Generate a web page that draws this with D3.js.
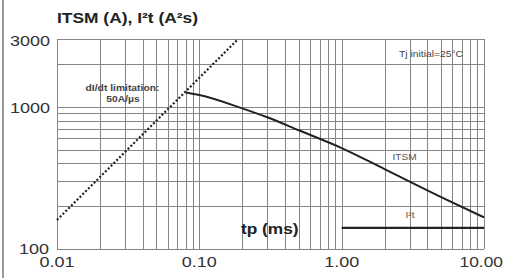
<!DOCTYPE html>
<html>
<head>
<meta charset="utf-8">
<script src="https://cdn.jsdelivr.net/npm/d3@7"></script>
<style>
  body { margin: 0; background: #fff; }
  text { font-family: "Liberation Sans", Arial, sans-serif; }
</style>
</head>
<body>
<div id="chart"></div>
<script>
// Data
const itsmTime = [0.08, 0.1, 0.2, 0.3, 0.5, 1, 2, 5, 10];
const itsmValue = [1260, 1210, 975, 844, 684, 513, 365, 232, 167];
const i2tTime = [1, 10];
const i2tValue = [141, 141];
const limitTime = [0.01, 0.1875];
const limitValue = [160, 3000];
const xTickValues = [0.01, 0.1, 1, 10];
const xTickLabels = ["0.01", "0.10", "1.00", "10.00"];
const yTickValues = [100, 1000, 3000];
const yTickLabels = ["100", "1000", "3000"];

const W = 505, H = 278;
const margin = { top: 39, right: 21, bottom: 29, left: 57 };

const svg = d3.select("#chart").append("svg")
    .attr("width", W)
    .attr("height", H);

const x = d3.scaleLog().domain([0.01, 10]).range([margin.left, W - margin.right]);
const y = d3.scaleLog().domain([100, 3000]).range([H - margin.bottom, margin.top]);

// Frame line on the left of the picture
svg.append("line")
    .attr("x1", 3).attr("x2", 3).attr("y1", 0).attr("y2", H)
    .attr("stroke", "#555").attr("stroke-width", 1.2);

// Grid
const xGrid = [];
[0.01, 0.1, 1].forEach(d => { for (let k = 1; k <= 9; k++) xGrid.push(d * k); });
xGrid.push(10);
const yGrid = [100, 200, 300, 400, 500, 600, 700, 800, 900, 1000, 2000, 3000];

const grid = svg.append("g").attr("stroke", "#858585").attr("stroke-width", 1);
grid.selectAll(".vx").data(xGrid).enter().append("line")
    .attr("x1", d => Math.round(x(d)) + 0.5).attr("x2", d => Math.round(x(d)) + 0.5)
    .attr("y1", y(3000)).attr("y2", y(100));
grid.selectAll(".hy").data(yGrid).enter().append("line")
    .attr("y1", d => Math.round(y(d)) + 0.5).attr("y2", d => Math.round(y(d)) + 0.5)
    .attr("x1", x(0.01)).attr("x2", x(10));

// Text helper, glyphs in the source are stretched horizontally
function label(px, py, str, size, opts = {}) {
  const g = svg.append("g").attr("transform", `translate(${px},${py}) scale(1.2,1)`);
  return g.append("text")
      .attr("text-anchor", opts.anchor || "middle")
      .attr("dominant-baseline", "central")
      .attr("font-size", size)
      .attr("font-weight", opts.bold ? "bold" : "normal")
      .attr("fill", opts.color || "#222")
      .text(str);
}

// Curves
const lineGen = d3.line().x(d => x(d[0])).y(d => y(d[1]));

svg.append("path")
    .datum(d3.zip(limitTime, limitValue))
    .attr("fill", "none")
    .attr("stroke", "#222")
    .attr("stroke-width", 2.2)
    .attr("stroke-dasharray", "2,2")
    .attr("d", lineGen);

svg.append("path")
    .datum(d3.zip(itsmTime, itsmValue))
    .attr("fill", "none")
    .attr("stroke", "#222")
    .attr("stroke-width", 2)
    .attr("d", lineGen.curve(d3.curveMonotoneX));

svg.append("path")
    .datum(d3.zip(i2tTime, i2tValue))
    .attr("fill", "none")
    .attr("stroke", "#222")
    .attr("stroke-width", 2.2)
    .attr("d", d3.line().x(d => x(d[0])).y(d => y(d[1])));

// Axis labels
xTickValues.forEach((v, i) => {
  if (i === xTickValues.length - 1) label(503, 262, xTickLabels[i], 14.5, { anchor: "end", color: "#333" });
  else label(x(v), 262, xTickLabels[i], 15, { color: "#333" });
});
label(50, y(3000) + 2, yTickLabels[2], 15, { anchor: "end", color: "#333" });
label(50, y(1000) + 1, yTickLabels[1], 15, { anchor: "end", color: "#333" });
label(49, 249, yTickLabels[0], 15, { anchor: "end", color: "#333" });

// Titles and annotations
label(57, 18, "ITSM (A), I²t (A²s)", 14.5, { anchor: "start", bold: true });
label(241, 229, "tp (ms)", 14.4, { anchor: "start", bold: true });
label(122.5, 88, "dI/dt limitation:", 8.6, { bold: true, color: "#444" });
label(123, 99, "50A/µs", 8.6, { bold: true, color: "#444" });
label(463, 54, "Tj initial=25°C", 8.6, { anchor: "end", color: "#444" });
label(404.5, 157, "ITSM", 8.4, { color: "#555" });
label(410, 215, "I²t", 8.4, { color: "#555" });
</script>
</body>
</html>
